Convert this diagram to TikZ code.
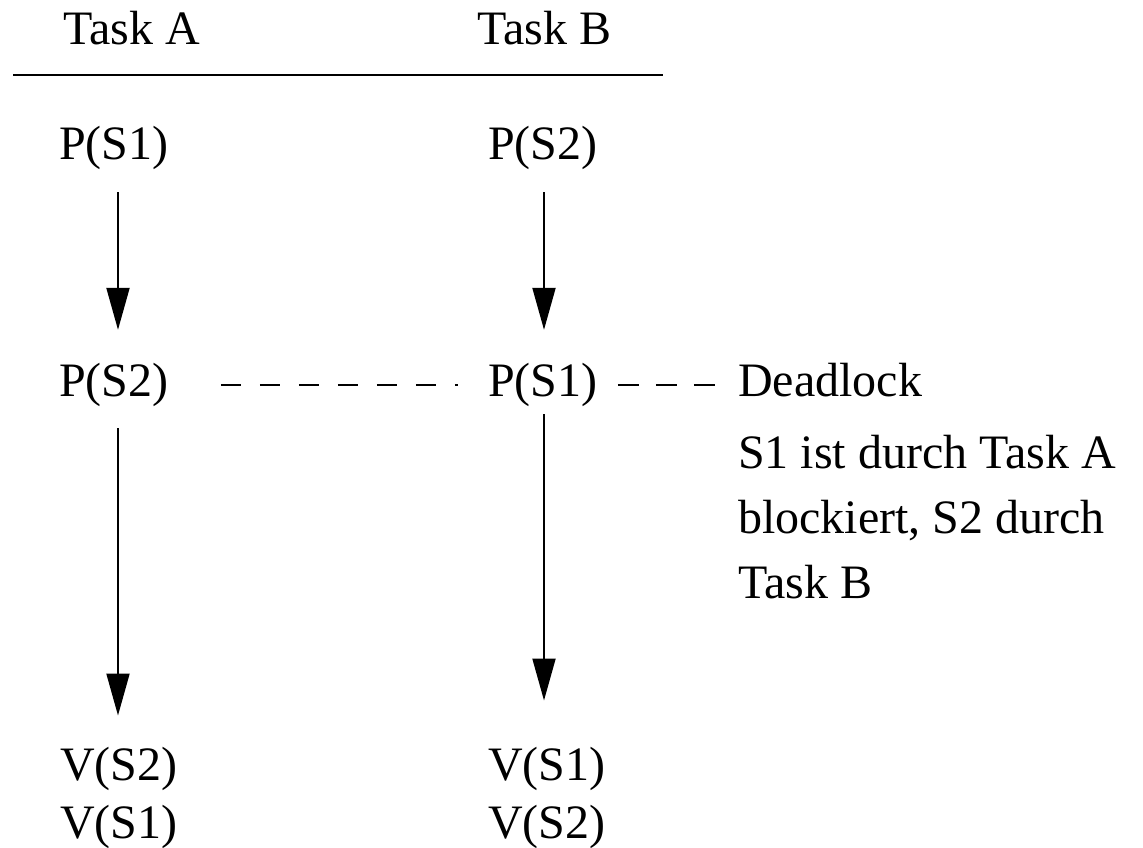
\documentclass[tikz,border=0pt]{standalone}
\usepackage{fontspec}
\setmainfont{Liberation Serif}
\usetikzlibrary{arrows.meta}

\tikzset{
  lbl/.style={inner sep=0pt, anchor=base west, font=\fontsize{48}{58}\selectfont},
  fixlbl/.style={lbl, text height=34pt, text depth=10pt},
  flow/.style={line width=2pt, -{Triangle[length=42pt,width=23pt]}},
  wait/.style={line width=1.6pt, dash pattern=on 20pt off 19pt},
  rule/.style={line width=2pt}
}

\begin{document}
\begin{tikzpicture}[x=1pt, y=-1pt]
  \useasboundingbox (0,0) rectangle (1143,848);

  % column headers and separating rule
  \node[lbl] (ha) at (63,45) {Task A};
  \node[lbl] (hb) at (477,45) {Task B};
  \coordinate (rl) at (13,75);
  \coordinate (rr) at (663,75);
  \draw[rule] (rl) -- (rr);

  % arrow columns
  \coordinate (colA) at (118,0);
  \coordinate (colB) at (544,0);

  % Task A (multi-line nodes are placed by the baseline of their last line)
  \node[fixlbl] (a1) at (59,160) {P(S1)};
  \node[fixlbl] (a2) at (59,396) {P(S2)};
  \node[lbl, align=left, font=\fontsize{48}{58}\selectfont] (a3) at (60,838) {V(S2)\\V(S1)};

  % Task B
  \node[fixlbl] (b1) at (488,160) {P(S2)};
  \node[fixlbl] (b2) at (488,396) {P(S1)};
  \node[lbl, align=left, font=\fontsize{48}{58}\selectfont] (b3) at (488,838) {V(S1)\\V(S2)};

  % deadlock note
  \node[fixlbl] (dl) at (738,396) {Deadlock};
  \node[lbl, align=left, font=\fontsize{48}{65}\selectfont] (why) at (738,598)
    {S1 ist durch Task A\\blockiert, S2 durch\\Task B};

  % sequence arrows
  \draw[flow, shorten <=22pt, shorten >=32pt] (a1.south -| colA) -- (a2.north -| colA);
  \draw[flow, shorten <=22pt, shorten >=31pt] (a2.south -| colA) -- (a3.north -| colA);
  \draw[flow, shorten <=22pt, shorten >=32pt] (b1.south -| colB) -- (b2.north -| colB);
  \draw[flow, shorten <=8pt, shorten >=46pt] (b2.south -| colB) -- (b3.north -| colB);

  % mutual waiting
  \draw[wait, shorten <=52pt, shorten >=30pt] ([yshift=-1pt]a2.east) -- ([yshift=-1pt]b2.west);
  \draw[wait, dash pattern=on 21pt off 17pt, shorten <=20pt, shorten >=21pt] ([yshift=-1pt]b2.east) -- ([yshift=-1pt]dl.west);
\end{tikzpicture}
\end{document}
